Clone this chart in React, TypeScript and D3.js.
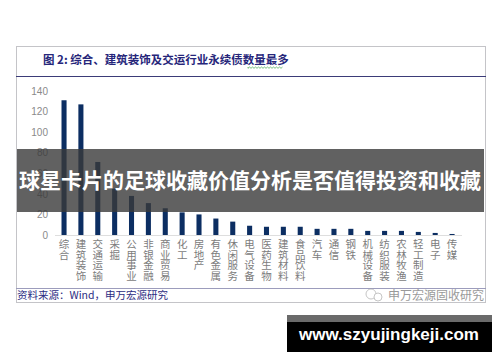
import { useEffect, useRef } from "react";
import * as d3 from "d3";

const industries = [
  "综合", "建筑装饰", "交通运输", "采掘", "公用事业", "非银金融", "商业贸易", "化工",
  "房地产", "有色金属", "休闲服务", "电气设备", "医药生物", "建筑材料", "食品饮料", "汽车",
  "通信", "钢铁", "机械设备", "纺织服装", "农林牧渔", "轻工制造", "电子", "传媒",
];
const bondCounts = [
  131, 127, 71, 45, 38, 31, 26, 22,
  20, 16, 13, 9, 8, 8, 8, 6,
  6, 6, 4, 4, 4, 3, 2, 1,
];
const yTicks = [0, 20, 40, 60, 80, 100, 120, 140];

const W = 500;
const H = 362;
const CJK = "'Noto Sans CJK SC', 'Noto Sans', sans-serif";

const App = () => {
  const svgRef = useRef<SVGSVGElement | null>(null);

  useEffect(() => {
    if (!svgRef.current) return;
    const svg = d3.select(svgRef.current);
    svg.selectAll("*").remove();

    svg.append("rect").attr("width", W).attr("height", H).attr("fill", "#fff");

    // frame of the report figure
    svg.append("rect")
      .attr("x", 16.5).attr("y", 46.5).attr("width", 469).attr("height", 256)
      .attr("fill", "none").attr("stroke", "#c4c4c8");
    svg.append("line")
      .attr("x1", 16).attr("x2", 486).attr("y1", 76.5).attr("y2", 76.5)
      .attr("stroke", "#3b3b78").attr("stroke-width", 1.2);
    svg.append("line")
      .attr("x1", 16).attr("x2", 486).attr("y1", 288.5).attr("y2", 288.5)
      .attr("stroke", "#9c9cbc").attr("stroke-width", 1.2);

    svg.append("text")
      .attr("x", 43).attr("y", 63.5)
      .attr("font-family", CJK).attr("font-size", 11.5).attr("font-weight", 700)
      .attr("fill", "#26267a")
      .text("图 2: 综合、建筑装饰及交运行业永续债数量最多");

    // spell-check squiggle under the title
    const sq = d3.path();
    sq.moveTo(248, 67);
    for (let x = 248, i = 0; x < 283; x += 1.5, i++) sq.lineTo(x, i % 2 ? 67 : 68.3);
    svg.append("path").attr("d", sq.toString()).attr("fill", "none")
      .attr("stroke", "#3fa34a").attr("stroke-width", 0.7);

    const x = d3.scaleBand<string>()
      .domain(industries)
      .range([55.6, 460.5])
      .paddingInner(0.7)
      .paddingOuter(0.35);
    const y = d3.scaleLinear().domain([0, 140]).range([235, 91]);

    const g = svg.append("g");

    const yAxis = d3.axisLeft(y).tickValues(yTicks).tickSize(0).tickPadding(0);
    g.append("g")
      .attr("transform", "translate(48,0)")
      .call(yAxis)
      .call((a) => a.select(".domain").remove())
      .call((a) =>
        a.selectAll("text")
          .attr("font-family", "'Liberation Sans', Arial, sans-serif")
          .attr("font-size", 10)
          .attr("fill", "#8a8a8a"),
      );

    g.append("line")
      .attr("x1", 55).attr("x2", 462).attr("y1", 235.5).attr("y2", 235.5)
      .attr("stroke", "#dedede");

    g.selectAll(".bar")
      .data(bondCounts)
      .enter()
      .append("rect")
      .attr("class", "bar")
      .attr("x", (_d, i) => x(industries[i]) as number)
      .attr("y", (d) => y(d))
      .attr("width", x.bandwidth())
      .attr("height", (d) => y(0) - y(d))
      .attr("fill", "#0c2e62");

    // category labels, upright characters stacked top to bottom
    g.selectAll(".cat")
      .data(industries)
      .enter()
      .append("text")
      .attr("class", "cat")
      .attr("x", (d) => (x(d) as number) + x.bandwidth() / 2)
      .attr("y", 239)
      .style("writing-mode", "vertical-rl")
      .attr("text-anchor", "start")
      .attr("font-family", CJK)
      .attr("font-size", 10.5)
      .attr("fill", "#7c7c7c")
      .text((d) => d);

    // footer
    svg.append("text")
      .attr("x", 17).attr("y", 299)
      .attr("font-family", CJK).attr("font-size", 10.5)
      .attr("fill", "#2c2c82")
      .text("资料来源：Wind，申万宏源研究");

    const wm = svg.append("g").attr("opacity", 0.75);
    wm.append("circle").attr("cx", 371).attr("cy", 294).attr("r", 5)
      .attr("fill", "none").attr("stroke", "#aaa").attr("stroke-width", 0.9);
    wm.append("circle").attr("cx", 378).attr("cy", 297).attr("r", 4)
      .attr("fill", "#fff").attr("stroke", "#aaa").attr("stroke-width", 0.9);
    wm.append("text")
      .attr("x", 484).attr("y", 299.5).attr("text-anchor", "end")
      .attr("font-family", CJK).attr("font-size", 12)
      .attr("fill", "#777")
      .text("申万宏源固收研究");

    // overlay banner across the chart
    svg.append("rect")
      .attr("x", 17).attr("y", 149).attr("width", 467).attr("height", 63)
      .attr("fill", "rgba(58,58,58,0.8)");
    svg.append("text")
      .attr("x", 250).attr("y", 188).attr("text-anchor", "middle")
      .attr("font-family", CJK).attr("font-size", 21).attr("font-weight", 700)
      .attr("fill", "#fff")
      .text("球星卡片的足球收藏价值分析是否值得投资和收藏");

    // site banner bottom right
    svg.append("rect")
      .attr("x", 287).attr("y", 315).attr("width", 205).attr("height", 7)
      .attr("fill", "#6a6a6a");
    svg.append("rect")
      .attr("x", 287).attr("y", 322).attr("width", 205).attr("height", 30)
      .attr("fill", "#000");
    svg.append("text")
      .attr("x", 389).attr("y", 340).attr("text-anchor", "middle")
      .attr("font-family", "'Liberation Sans', Arial, sans-serif")
      .attr("font-size", 16).attr("font-weight", 700)
      .attr("fill", "#fff")
      .attr("textLength", 180).attr("lengthAdjust", "spacingAndGlyphs")
      .text("www.szyujingkeji.com");
  }, []);

  return (
    <svg
      ref={svgRef}
      width={W}
      height={H}
      style={{ position: "fixed", left: 0, top: 0, display: "block" }}
    />
  );
};

export default App;
